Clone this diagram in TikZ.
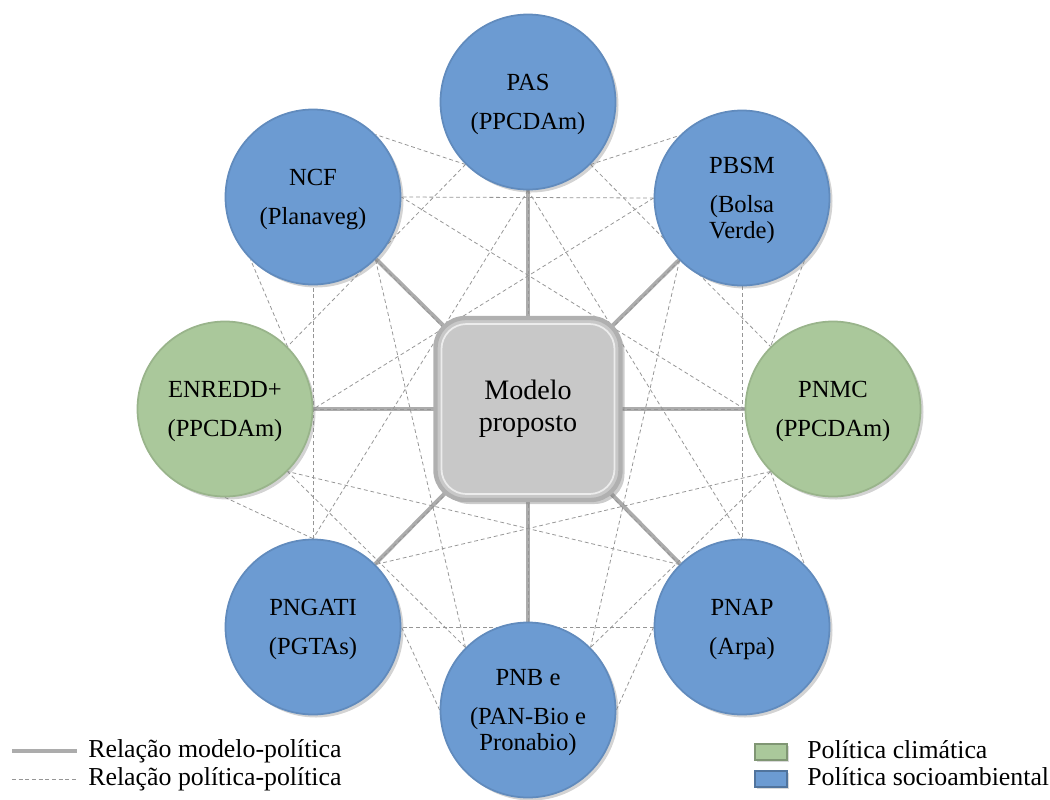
\documentclass[tikz,border=0pt]{standalone}
\usepackage{fontspec}
\setmainfont{Liberation Serif}
\usetikzlibrary{positioning, calc, shadows, backgrounds}

\definecolor{polblue}{RGB}{108,155,210}
\definecolor{polgreen}{RGB}{170,200,155}
\definecolor{boxgray}{RGB}{200,200,200}
\definecolor{linkgray}{RGB}{172,172,172}
\definecolor{dashgray}{RGB}{150,150,150}

\tikzset{
  policy/.style={circle, minimum size=3.5cm, inner sep=0pt, align=center,
    font=\fontsize{14}{15}\selectfont, text depth=-4pt,
    drop shadow={opacity=0.35, shadow xshift=0.6mm, shadow yshift=-0.6mm}},
  socio/.style={policy, fill=polblue, draw=polblue!90!black, line width=1pt},
  clima/.style={policy, fill=polgreen, draw=polgreen!90!black, line width=1pt},
  modbox/.style={rectangle, rounded corners=0.6cm, minimum width=3.7cm,
    minimum height=3.64cm, fill=boxgray, draw=gray!62, line width=2.5pt,
    align=center, font=\fontsize{16}{18}\selectfont,
    drop shadow={opacity=0.4, shadow xshift=0.8mm, shadow yshift=-0.8mm},
    path picture={\draw[white!65!boxgray, line width=1pt, rounded corners=0.5cm]
      ([shift={(0.12,-0.12)}]path picture bounding box.north west) rectangle
      ([shift={(-0.12,0.12)}]path picture bounding box.south east);}},
  modlink/.style={draw=linkgray, line width=2.3pt},
  polpol/.style={draw=dashgray, line width=0.45pt, dash pattern=on 2.2pt off 1.6pt},
  legbox/.style={rectangle, minimum width=0.64cm, minimum height=0.32cm,
    inner sep=0pt, fill=#1, draw=#1!75!black, line width=0.6pt,
    drop shadow={opacity=0.3, shadow xshift=0.4mm, shadow yshift=-0.4mm}},
  legtext/.style={anchor=base west, inner sep=0pt, font=\fontsize{14.7}{16}\selectfont},
}

\begin{document}
\begin{tikzpicture}[on grid]
\useasboundingbox (0,0) rectangle (21,-15.98);

% model in the middle
\node[modbox] (modelo) at (10.56,-8.18) {Modelo\\proposto};

% policies round it
\node[socio, above=6.14cm of modelo] (pas) {PAS\\[7pt](PPCDAm)};
\node[socio, above right=4.22cm and 4.28cm of modelo] (pbsm) {PBSM\\[7pt](Bolsa\\Verde)};
\node[clima, right=6.1cm of modelo] (pnmc) {PNMC\\[7pt](PPCDAm)};
\node[socio, below right=4.36cm and 4.28cm of modelo] (pnap) {PNAP\\[7pt](Arpa)};
\node[socio, below=6.02cm of modelo] (pnb) {PNB e\\[7pt](PAN-Bio e\\Pronabio)};
\node[socio, below left=4.36cm and 4.3cm of modelo] (pngati) {PNGATI\\[7pt](PGTAs)};
\node[clima, left=6.06cm of modelo] (enredd) {ENREDD+\\[7pt](PPCDAm)};
\node[socio, above left=4.24cm and 4.3cm of modelo] (ncf) {NCF\\[7pt](Planaveg)};

\begin{scope}[on background layer]
% model-policy links
\foreach \p in {pas,pbsm,pnmc,pnap,pnb,pngati,enredd,ncf}
  \draw[modlink] (modelo.center) -- (\p);
% policy-policy links, between the nearest sites
\foreach \a [count=\i] in {pas,pbsm,pnmc,pnap,pnb,pngati,enredd,ncf} {
  \foreach \b [count=\j] in {pas,pbsm,pnmc,pnap,pnb,pngati,enredd,ncf} {
    \ifnum\j>\i
      \pgfmathanglebetweenpoints{\pgfpointanchor{\a}{center}}{\pgfpointanchor{\b}{center}}
      \pgfmathtruncatemacro\sa{45*round(\pgfmathresult/45)}
      \pgfmathtruncatemacro\sb{\sa+180}
      \draw[polpol] (\a.\sa) -- (\b.\sb);
    \fi
  }
}
\end{scope}

% legend
\coordinate (lgm1) at (0.24,-15.02);
\coordinate (lgm2) at (1.54,-15.02);
\draw[modlink] (lgm1) -- (lgm2);
\node[legtext] (lgmtext) at (1.76,-15.14) {Relação modelo-política};
\coordinate (lgp1) at (0.24,-15.58);
\coordinate (lgp2) at (1.54,-15.58);
\draw[polpol] (lgp1) -- (lgp2);
\node[legtext] (lgptext) at (1.76,-15.70) {Relação política-política};

\node[legbox=polgreen] (legclima) at (15.42,-15.04) {};
\node[legtext] (legclimatext) at (16.14,-15.16) {Política climática};
\node[legbox=polblue] (legsocio) at (15.42,-15.58) {};
\node[legtext] (legsociotext) at (16.14,-15.70) {Política socioambiental};
\end{tikzpicture}
\end{document}
